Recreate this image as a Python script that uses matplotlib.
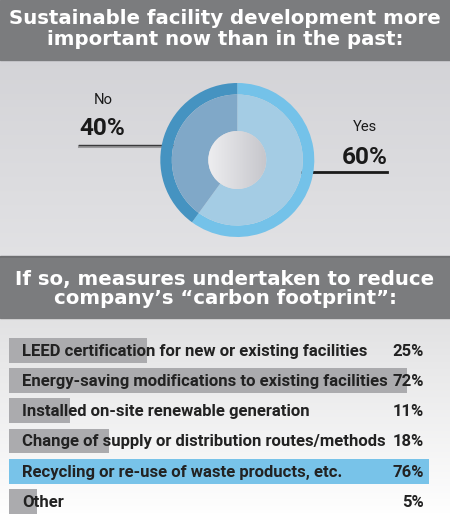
import numpy as np
import matplotlib
matplotlib.use("Agg")
import matplotlib.pyplot as plt
from matplotlib.patches import Circle, Rectangle

# data
title_top = "Sustainable facility development more\nimportant now than in the past:"
title_bottom = "If so, measures undertaken to reduce\ncompany\u2019s \u201ccarbon footprint\u201d:"
pie_labels = ["Yes", "No"]
pie_values = [60, 40]
measures = [
    "LEED certification for new or existing facilities",
    "Energy-saving modifications to existing facilities",
    "Installed on-site renewable generation",
    "Change of supply or distribution routes/methods",
    "Recycling or re-use of waste products, etc.",
    "Other",
]
measure_pct = [25, 72, 11, 18, 76, 5]
highlight = "Recycling or re-use of waste products, etc."

W, H = 450, 521
label_font = ["Roboto", "DejaVu Sans"]

fig = plt.figure(figsize=(W / 100, H / 100), dpi=100)
renderer = fig.canvas.get_renderer()


def px_axes(x0, y0, w, h, **kw):
    return fig.add_axes([x0 / W, 1 - (y0 + h) / H, w / W, h / H], **kw)


def fit_width(t, target):
    w = t.get_window_extent(renderer).width
    t.set_fontsize(t.get_fontsize() * target / w)
    return t.get_fontsize()


# background in pixel space
bg = px_axes(0, 0, W, H)
bg.set_xlim(0, W)
bg.set_ylim(H, 0)
bg.axis("off")
g = np.linspace(0, 1, 100).reshape(-1, 1, 1)
top_cols = np.array([0.83, 0.83, 0.845]) * (1 - g) + np.array([0.885, 0.885, 0.895]) * g
bg.imshow(top_cols, extent=[0, W, 257, 60], aspect="auto", zorder=0)
bot_cols = np.array([0.885, 0.885, 0.89]) * (1 - g) + np.array([1.0, 1.0, 1.0]) * g
bg.imshow(bot_cols, extent=[0, W, H, 318], aspect="auto", zorder=0)
bg.add_patch(Rectangle((0, 0), W, 60, color="#7b7c7e", zorder=1))
bg.add_patch(Rectangle((0, 256), W, 2, color="#6e6f71", zorder=1))
bg.add_patch(Rectangle((0, 258), W, 60, color="#7b7c7e", zorder=1))
t1 = bg.text(W / 2, 29, title_top, ha="center", va="center", color="white",
             fontsize=14, fontweight="bold", family="DejaVu Sans", linespacing=1.12, zorder=2)
fit_width(t1, 432)
t2 = bg.text(W / 2, 289, title_bottom, ha="center", va="center", color="white",
             fontsize=t1.get_fontsize(), fontweight="bold", family="DejaVu Sans",
             linespacing=1.02, zorder=2)

# donut
cx, cy = 237.3, 160
pa = px_axes(cx - 80, cy - 80, 160, 160)
pa.pie(pie_values, radius=77, startangle=90, counterclock=False,
       colors=["#74c2e9", "#4593c1"], wedgeprops=dict(width=11.5, linewidth=0))
pa.pie(pie_values, radius=65.5, startangle=90, counterclock=False,
       colors=["#a4cce4", "#80a8c8"], wedgeprops=dict(width=36.5, linewidth=0))
hx = np.linspace(0, 1, 64).reshape(1, -1, 1)
hole_cols = np.array([0.93, 0.93, 0.94]) * (1 - hx) + np.array([0.78, 0.78, 0.80]) * hx
im = pa.imshow(hole_cols, extent=[-29, 29, -29, 29], zorder=5)
im.set_clip_path(Circle((0, 0), 29, transform=pa.transData))
pa.set_xlim(-80, 80)
pa.set_ylim(-80, 80)
pa.set_aspect("equal")
pa.axis("off")

# leader lines and labels (pixel space)
bg.plot([79, 187], [145.5, 145.5], color="#9a9a9c", lw=2.2, zorder=3)
bg.plot([79, 187], [144.6, 144.6], color="#3a3a3c", lw=1.0, zorder=3)
bg.plot([187], [144.5], marker="s", ms=5, mfc="white", mec="#777777", mew=1, zorder=4)
bg.plot([283, 387], [172, 172], color="#1a1a1a", lw=2.0, zorder=3)
bg.plot([283.3], [172], marker="s", ms=5, mfc="white", mec="#777777", mew=1, zorder=4)

n_lab = bg.text(103, 100, pie_labels[1], ha="center", va="center", fontsize=12,
                family=label_font, color="#1a1a1a")
fit_width(n_lab, 19)
y_lab = bg.text(365, 127, pie_labels[0], ha="center", va="center",
                family=label_font, color="#1a1a1a")
y_lab.set_fontsize(n_lab.get_fontsize())
n_pct = bg.text(102.5, 128.5, f"{pie_values[1]}%", ha="center", va="center",
                family=label_font, fontweight="bold", color="#1a1a1a", fontsize=20)
fit_width(n_pct, 46)
y_pct = bg.text(364.5, 157.5, f"{pie_values[0]}%", ha="center", va="center",
                family=label_font, fontweight="bold", color="#1a1a1a")
y_pct.set_fontsize(n_pct.get_fontsize())

# bars
k = 5.53  # px per percent
bx0, by0 = 9, 335
ba = px_axes(bx0, by0, W - bx0, 6 * 30.3)
ba.set_xlim(0, (W - bx0) / k)
ba.set_ylim(5.5, -0.5)
ba.axis("off")
ypos = np.arange(len(measures))
bar_cols = ["#78c3e9" if m == highlight else "#ababae" for m in measures]
ba.barh(ypos, measure_pct, height=0.82, color=bar_cols, linewidth=0)

labels = []
for y, m in zip(ypos, measures):
    t = ba.text((22 - bx0) / k, y + 0.03, m, ha="left", va="center", fontsize=12,
                family=label_font, fontweight="bold", color="#222222")
    labels.append(t)
longest = max(labels, key=lambda t: len(t.get_text()))
fs = fit_width(longest, 366)
for t in labels:
    t.set_fontsize(fs)
for y, v in zip(ypos, measure_pct):
    ba.text((424 - bx0) / k, y + 0.03, f"{v}%", ha="right", va="center", fontsize=fs,
            family=label_font, fontweight="bold", color="#222222")

fig.savefig("out.png", dpi=100)
